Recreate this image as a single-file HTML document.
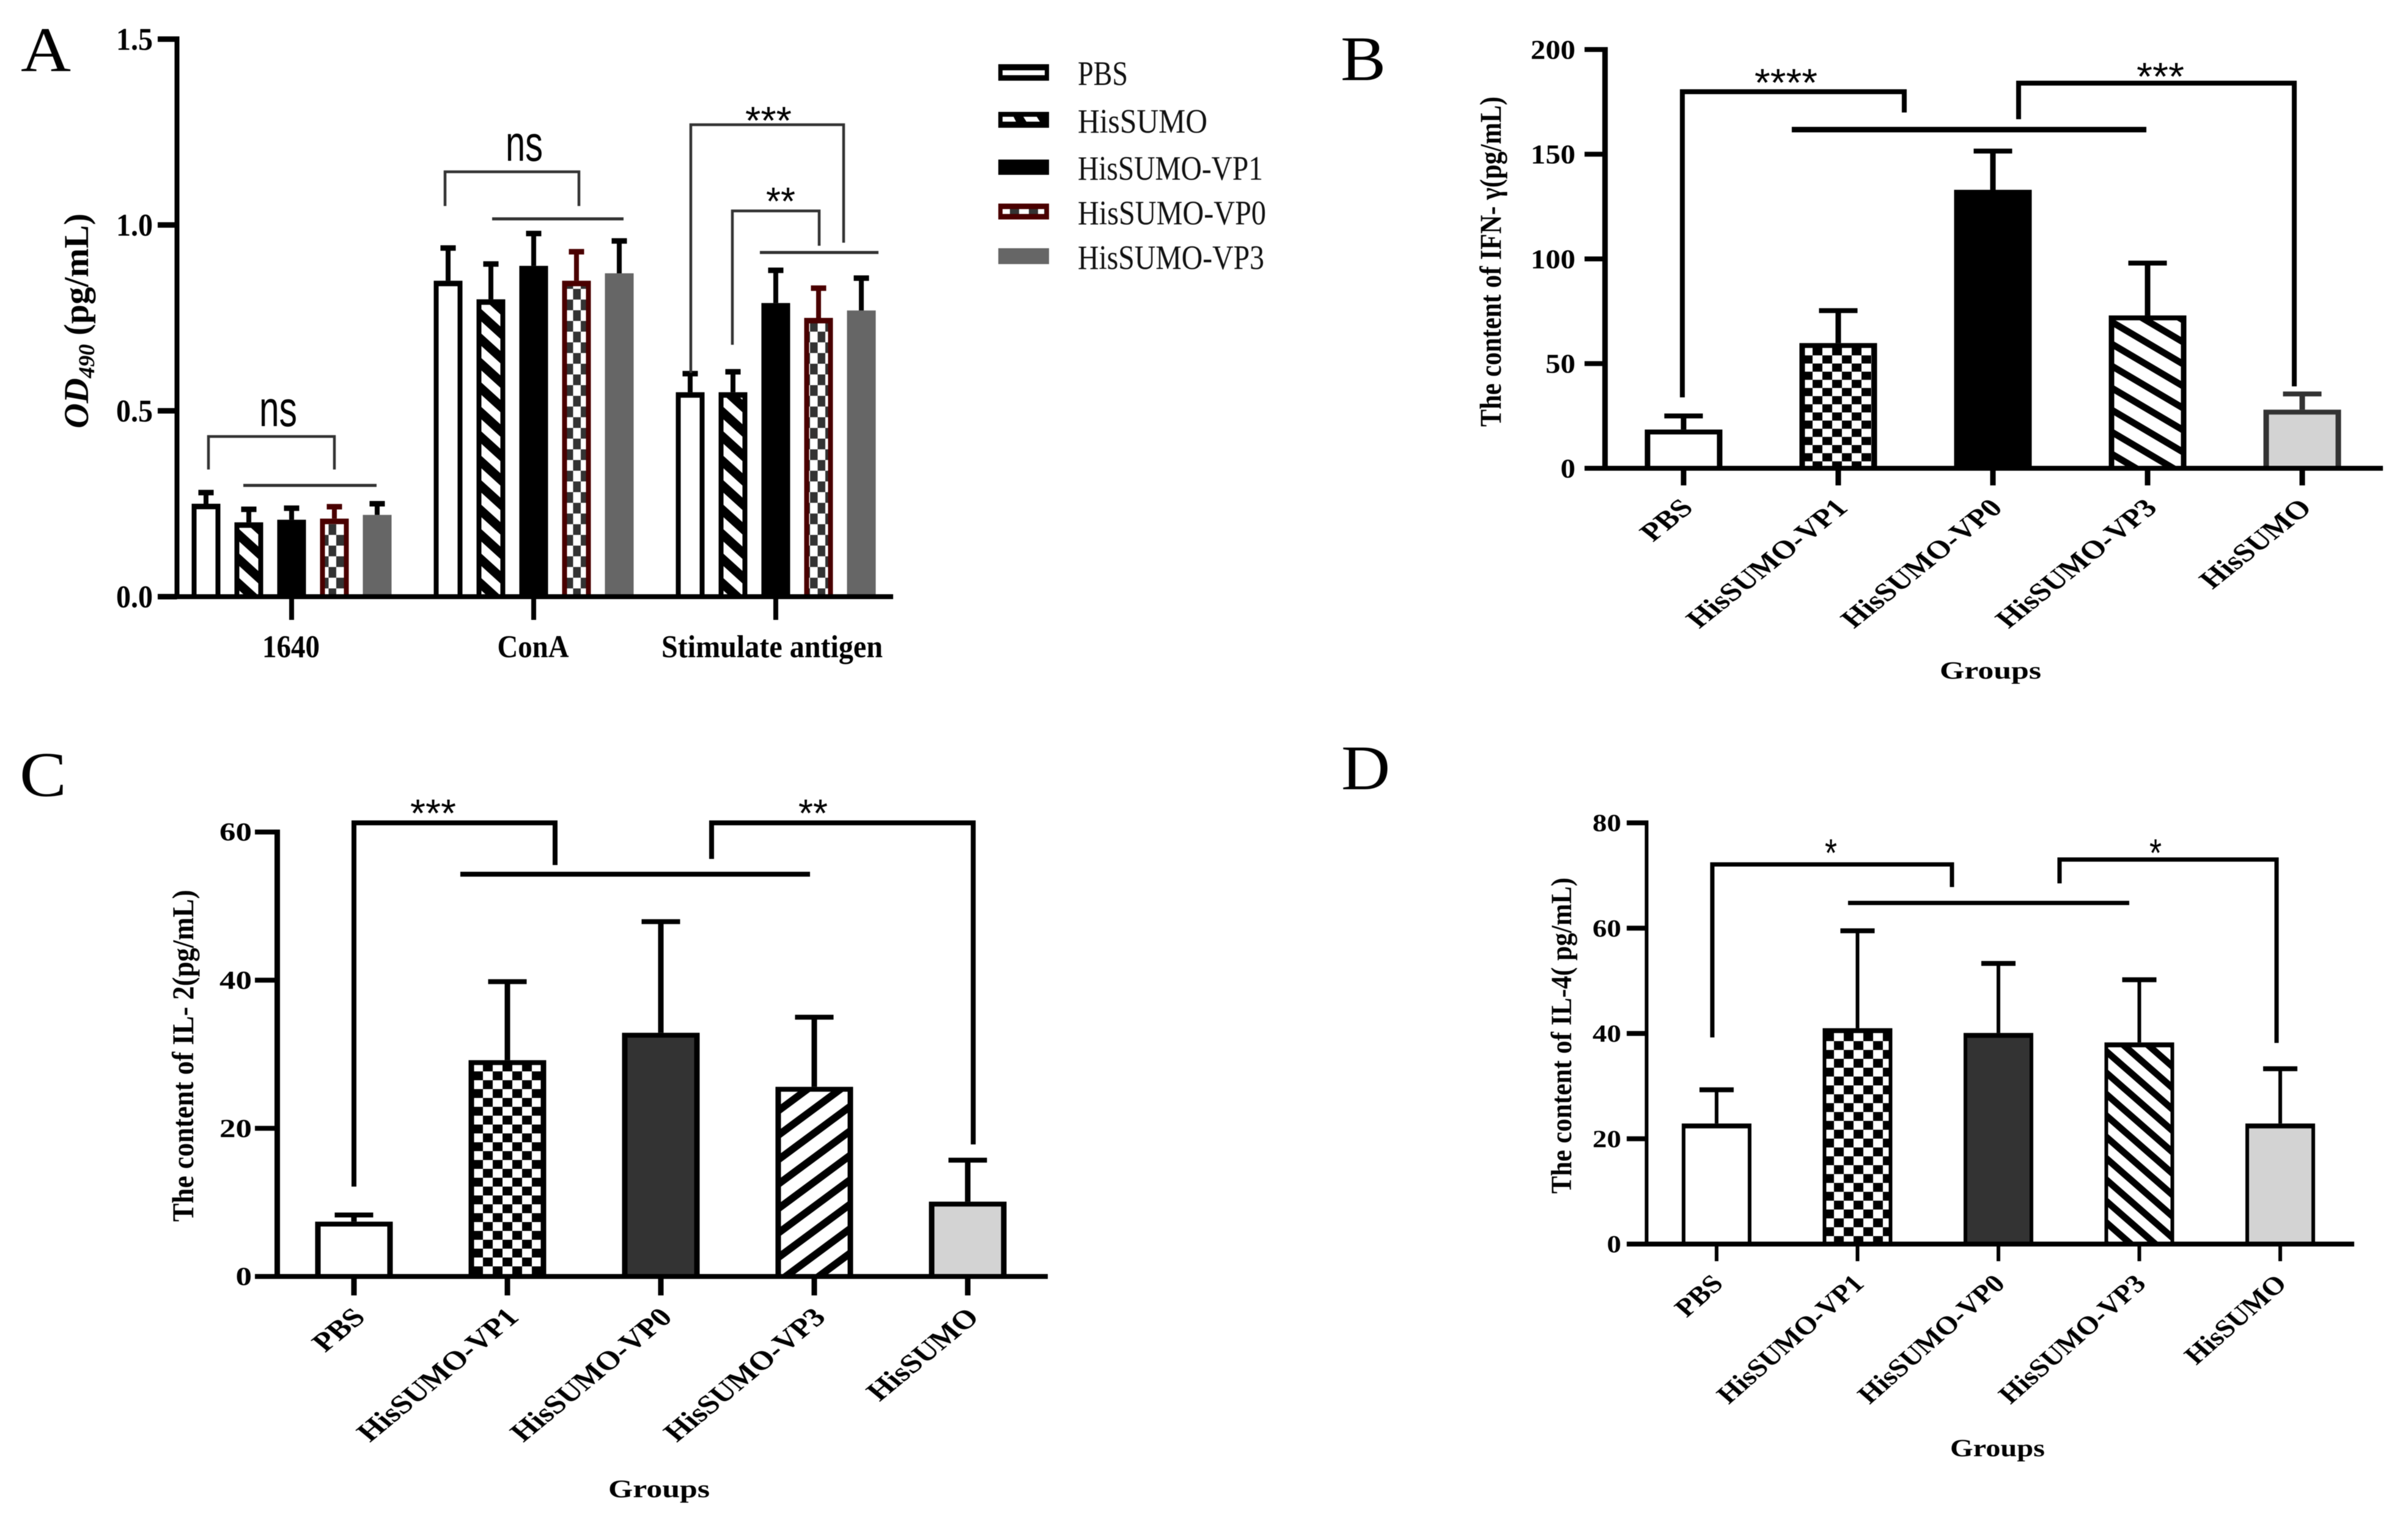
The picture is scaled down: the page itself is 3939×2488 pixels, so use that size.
<!DOCTYPE html>
<html lang="en">
<head>
<meta charset="utf-8">
<title>Cytokine and OD490 bar charts</title>
<style>
html,body{margin:0;padding:0;background:#fff;}
svg{display:block;filter:blur(.6px);}
text{font-family:"Liberation Serif",serif;fill:#000;}
.b{font-weight:bold;}
.sans{font-family:"Liberation Sans",sans-serif;}
.leg{font-size:56px;fill:#111;}
.panel-letter{font-size:104px;}
.star{font-family:"Liberation Sans",sans-serif;font-size:64px;}
</style>
</head>
<body>
<svg id="fig" xmlns="http://www.w3.org/2000/svg" width="3939" height="2488" viewBox="0 0 3939 2488">
<defs>
  <pattern id="hatchA" width="44" height="40" patternUnits="userSpaceOnUse">
    <rect width="44" height="40" fill="#fff"/>
    <path d="M-44,-40L88,80M0,-40L132,80M-88,-40L44,80" stroke="#000" stroke-width="15" fill="none"/>
  </pattern>
  <pattern id="hatchB" width="61" height="36" patternUnits="userSpaceOnUse">
    <rect width="61" height="36" fill="#fff"/>
    <path d="M-61,-36L122,72M0,-36L183,72M-122,-36L61,72" stroke="#000" stroke-width="11" fill="none"/>
  </pattern>
  <pattern id="hatchC" width="54" height="40" patternUnits="userSpaceOnUse" patternTransform="scale(-1,1)">
    <rect width="54" height="40" fill="#fff"/>
    <path d="M-54,-40L108,80M0,-40L162,80M-108,-40L54,80" stroke="#000" stroke-width="12" fill="none"/>
  </pattern>
  <pattern id="hatchD" width="40" height="35" patternUnits="userSpaceOnUse">
    <rect width="40" height="35" fill="#fff"/>
    <path d="M-40,-35L80,70M0,-35L120,70M-80,-35L40,70" stroke="#000" stroke-width="11" fill="none"/>
  </pattern>
  <pattern id="checkA" width="25" height="35" patternUnits="userSpaceOnUse">
    <rect width="25" height="35" fill="#fff"/>
    <rect width="12.5" height="17.5" fill="#333"/>
    <rect x="12.5" y="17.5" width="12.5" height="17.5" fill="#333"/>
  </pattern>
  <pattern id="checkB" width="32" height="26.67" patternUnits="userSpaceOnUse" patternTransform="translate(21,7.9)">
    <rect width="32" height="26.67" fill="#fff"/>
    <rect width="16" height="13.33" fill="#000"/>
    <rect x="16" y="13.33" width="16" height="13.34" fill="#000"/>
  </pattern>
  <pattern id="checkC" width="32" height="29" patternUnits="userSpaceOnUse" patternTransform="translate(22,27)">
    <rect width="32" height="29" fill="#fff"/>
    <rect width="16" height="14.5" fill="#000"/>
    <rect x="16" y="14.5" width="16" height="14.5" fill="#000"/>
  </pattern>
  <pattern id="checkD" width="32" height="29" patternUnits="userSpaceOnUse" patternTransform="translate(24,21)">
    <rect width="32" height="29" fill="#fff"/>
    <rect width="16" height="14.5" fill="#000"/>
    <rect x="16" y="14.5" width="16" height="14.5" fill="#000"/>
  </pattern>
</defs>

<!-- Panel letters -->
<text class="panel-letter" x="34" y="116" textLength="82" lengthAdjust="spacingAndGlyphs">A</text>
<text class="panel-letter" x="2193" y="131" textLength="74" lengthAdjust="spacingAndGlyphs">B</text>
<text class="panel-letter" x="32" y="1302" textLength="77" lengthAdjust="spacingAndGlyphs">C</text>
<text class="panel-letter" x="2194" y="1291" textLength="80" lengthAdjust="spacingAndGlyphs">D</text>

<!-- Legend -->
<g>
  <g>
    <rect x="1633" y="105" width="83" height="27" fill="#000"/><rect x="1640" y="115" width="69" height="8" fill="#fff"/>
    <text class="leg" x="1763" y="139" textLength="82" lengthAdjust="spacingAndGlyphs">PBS</text>
  </g>
  <g>
    <rect x="1633" y="183" width="83" height="26" fill="#000"/>
    <path d="M1640,191h18l4,8h-22zM1674,191h22l5,8h-22z" fill="#fff"/>
    <text class="leg" x="1763" y="217" textLength="212" lengthAdjust="spacingAndGlyphs">HisSUMO</text>
  </g>
  <g>
    <rect x="1633" y="261" width="83" height="25" fill="#000"/>
    <text class="leg" x="1763" y="294" textLength="303" lengthAdjust="spacingAndGlyphs">HisSUMO-VP1</text>
  </g>
  <g>
    <rect x="1633" y="333" width="83" height="26" fill="#4a0000"/>
    <path d="M1640,342h69v8h-69z" fill="#333"/>
    <path d="M1640,342h12v8h-12zM1667,342h16v8h-16zM1698,342h10v8h-10z" fill="#fff"/>
    <text class="leg" x="1763" y="367" textLength="308" lengthAdjust="spacingAndGlyphs">HisSUMO-VP0</text>
  </g>
  <g>
    <rect x="1633" y="406" width="83" height="26" fill="#666"/>
    <text class="leg" x="1763" y="440" textLength="305" lengthAdjust="spacingAndGlyphs">HisSUMO-VP3</text>
  </g>
</g>

<!-- Axis titles -->
<text class="b" font-size="57" text-anchor="middle" transform="translate(144,525) rotate(-90)"><tspan font-style="italic">OD</tspan><tspan font-style="italic" font-size="37" dy="10">490</tspan><tspan dy="-10"> (pg/mL)</tspan></text>
<text class="b" font-size="50" text-anchor="middle" textLength="540" lengthAdjust="spacingAndGlyphs" transform="translate(2455,428) rotate(-90)">The content of IFN- γ(pg/mL)</text>
<text class="b" font-size="50" text-anchor="middle" textLength="543" lengthAdjust="spacingAndGlyphs" transform="translate(316,1727) rotate(-90)">The content of IL- 2(pg/mL)</text>
<text class="b" font-size="48" text-anchor="middle" textLength="517" lengthAdjust="spacingAndGlyphs" transform="translate(2570,1694) rotate(-90)">The content of IL-4( pg/mL)</text>
<text class="b" font-size="40" x="3173" y="1110" textLength="166" lengthAdjust="spacingAndGlyphs">Groups</text>
<text class="b" font-size="41" x="995" y="2449" textLength="166" lengthAdjust="spacingAndGlyphs">Groups</text>
<text class="b" font-size="40" x="3190" y="2382" textLength="155" lengthAdjust="spacingAndGlyphs">Groups</text>

<g id="panelA"></g>
<g id="panelB"></g>
<g id="panelC"></g>
<g id="panelD"></g>

<!-- Significance annotations -->
<g fill="none" stroke="#333" stroke-width="4.5">
  <path d="M341,768V714H547V768"/>
  <path d="M398,794H616" stroke-width="5"/>
  <path d="M728,337V281H947V337"/>
  <path d="M805,358H1020" stroke-width="5"/>
  <path d="M1130,610V204H1380V397"/>
  <path d="M1198,564V345H1340V402"/>
  <path d="M1243,413H1437" stroke-width="5"/>
</g>
<text class="sans" font-size="83" x="424" y="697" textLength="62" lengthAdjust="spacingAndGlyphs" fill="#222">ns</text>
<text class="sans" font-size="83" x="827" y="263" textLength="61" lengthAdjust="spacingAndGlyphs" fill="#222">ns</text>
<text class="star" x="1219" y="219" textLength="76" lengthAdjust="spacingAndGlyphs">***</text>
<text class="star" x="1253" y="351" textLength="48" lengthAdjust="spacingAndGlyphs">**</text>

<g fill="none" stroke="#000" stroke-width="8">
  <path d="M2752,650V150H3115V184"/>
  <path d="M3302,195V136H3753V632"/>
  <path d="M2931,212H3511" stroke-width="9"/>
</g>
<text class="star" x="2870" y="157" textLength="103" lengthAdjust="spacingAndGlyphs">****</text>
<text class="star" x="3495" y="147" textLength="78" lengthAdjust="spacingAndGlyphs">***</text>

<g fill="none" stroke="#000" stroke-width="8">
  <path d="M579,1941V1346H908V1415"/>
  <path d="M1164,1405V1346H1592V1872"/>
  <path d="M753,1430H1325"/>
</g>
<text class="star" x="671" y="1352" textLength="75" lengthAdjust="spacingAndGlyphs">***</text>
<text class="star" x="1306" y="1352" textLength="48" lengthAdjust="spacingAndGlyphs">**</text>

<g fill="none" stroke="#000" stroke-width="7">
  <path d="M2801,1697V1414H3193V1451"/>
  <path d="M3369,1445V1406H3724V1706"/>
  <path d="M3023,1477H3483"/>
</g>
<text class="star" x="2985" y="1417" textLength="20" lengthAdjust="spacingAndGlyphs">*</text>
<text class="star" x="3516" y="1417" textLength="20" lengthAdjust="spacingAndGlyphs">*</text>
</svg>

<script>
// ---- Panel A data ----
const panelACategories = ['1640', 'ConA', 'Stimulate antigen'];
const panelASeries = ['PBS', 'HisSUMO', 'HisSUMO-VP1', 'HisSUMO-VP0', 'HisSUMO-VP3'];
const panelATicks = ['0.0', '0.5', '1.0', '1.5'];
const panelAMeansPBS = [0.25, 0.85, 0.55];
const panelAMeansHisSUMO = [0.20, 0.80, 0.55];
const panelAMeansVP1 = [0.207, 0.89, 0.79];
const panelAMeansVP0 = [0.21, 0.85, 0.75];
const panelAMeansVP3 = [0.22, 0.87, 0.77];
const panelAErrorsPBS = [0.03, 0.088, 0.05];
const panelAErrorsHisSUMO = [0.035, 0.095, 0.055];
const panelAErrorsVP1 = [0.031, 0.087, 0.088];
const panelAErrorsVP0 = [0.032, 0.078, 0.08];
const panelAErrorsVP3 = [0.03, 0.087, 0.087];

// ---- Panel B data ----
const panelBCategories = ['PBS', 'HisSUMO-VP1', 'HisSUMO-VP0', 'HisSUMO-VP3', 'HisSUMO'];
const panelBMeans = [18.5, 59.8, 133, 73, 28];
const panelBErrors = [6.5, 15.5, 18.5, 25, 7.5];
const panelBTicks = ['0', '50', '100', '150', '200'];

// ---- Panel C data ----
const panelCCategories = ['PBS', 'HisSUMO-VP1', 'HisSUMO-VP0', 'HisSUMO-VP3', 'HisSUMO'];
const panelCMeans = [7.4, 29.2, 32.9, 25.6, 10.1];
const panelCErrors = [0.9, 10.6, 15, 9.4, 5.6];
const panelCTicks = ['0', '20', '40', '60'];

// ---- Panel D data ----
const panelDCategories = ['PBS', 'HisSUMO-VP1', 'HisSUMO-VP0', 'HisSUMO-VP3', 'HisSUMO'];
const panelDMeans = [22.9, 41, 40.1, 38.3, 22.9];
const panelDErrors = [6.4, 18.5, 13.2, 11.9, 10.4];
const panelDTicks = ['0', '20', '40', '60', '80'];

const SVGNS = 'http://www.w3.org/2000/svg';
function mk(tag, parent, props) {
  const e = document.createElementNS(SVGNS, tag);
  for (const k in props) e.setAttribute(k, props[k]);
  parent.appendChild(e);
  return e;
}
function slug(s) { return String(s).toLowerCase().replace(/[^a-z0-9]+/g, '-'); }

function drawAxes(g, cfg, ticks, scale) {
  const yAxis = mk('rect', g, {x: cfg.axisX - cfg.sx / 2, y: scale(Number(ticks[ticks.length - 1])) - cfg.sy / 2, width: cfg.sx, height: cfg.y0 - scale(Number(ticks[ticks.length - 1])) + cfg.sy / 2, fill: '#000'});
  
  
  const xAxis = mk('rect', g, {x: cfg.axisLeft, y: cfg.y0 - cfg.axisH / 2, width: cfg.axisRight - cfg.axisLeft, height: cfg.axisH, fill: '#000'});
  
  
  ticks.forEach(function (t) {
    const y = scale(Number(t));
    const tick = mk('rect', g, {x: cfg.axisLeft, y: y - cfg.sy / 2, width: cfg.axisX - cfg.axisLeft, height: cfg.sy, fill: '#000'});
    
    
    const props = {x: cfg.tickRight, y: y + cfg.tickEm * 0.338, 'font-size': cfg.tickEm, 'text-anchor': 'end', 'class': 'b', textLength: cfg.tickLen(t), lengthAdjust: 'spacingAndGlyphs'};
    const label = mk('text', g, props);
    label.textContent = t;
    
    
  });
}

function drawBar(g, name, cx, mean, err, scale, cfg, st) {
  const top = scale(mean), w = cfg.barW, x = cx - w / 2;
  const outer = mk('rect', g, {x: x, y: top, width: w, height: cfg.y0 - top, fill: st.stroke});
  
  
  if (st.fill !== st.stroke) {
    const inner = mk('rect', g, {x: x + cfg.sx, y: top + cfg.sy, width: w - 2 * cfg.sx, height: cfg.y0 - top - cfg.sy, fill: st.fill});
    
    
  }
  const capY = scale(mean + err);
  const stem = mk('rect', g, {x: cx - cfg.errW / 2, y: capY, width: cfg.errW, height: top - capY, fill: st.err});
  
  
  const cap = mk('rect', g, {x: cx - cfg.capW / 2, y: capY - cfg.sy / 2, width: cfg.capW, height: cfg.sy, fill: st.err});
  
  
}

function drawSimplePanel(id, cfg, categories, means, errors, ticks, styles) {
  const g = document.getElementById(id);
  const scale = function (v) { return cfg.y0 - v * cfg.pxPerUnit; };
  const xPos = function (i) { return cfg.firstX + i * cfg.pitch; };
  categories.forEach(function (c, i) {
    drawBar(g, slug(c), xPos(i), means[i], errors[i], scale, cfg, styles[i]);
    const tick = mk('rect', g, {x: xPos(i) - cfg.xTickW / 2, y: cfg.y0, width: cfg.xTickW, height: cfg.xTickLen, fill: '#000'});
    
    
    const label = mk('text', g, {'class': 'b', 'font-size': cfg.labelEm, 'text-anchor': 'end', transform: 'translate(' + (xPos(i) + cfg.labelDx) + ',' + (cfg.y0 + cfg.labelDy) + ') scale(' + cfg.labelSx + ',1) rotate(-45)'});
    label.textContent = c;
    
    
  });
  drawAxes(g, cfg, ticks, scale);
}

// ---- Panel A (grouped bars) ----
(function () {
  const g = document.getElementById('panelA');
  const cfg = {y0: 976, pxPerUnit: 608, axisX: 289.5, axisLeft: 258, axisRight: 1461, axisH: 8, sx: 8, sy: 9, barW: 47, errW: 8, capW: 25, tickRight: 250, tickEm: 52, tickLen: function () { return 60; }};
  const scale = function (v) { return cfg.y0 - v * cfg.pxPerUnit; };
  const groupCenters = [0, 1, 2].map(function (i) { return 477 + i * 396; });
  const offsets = [-2, -1, 0, 1, 2].map(function (k) { return k * 70; });
  const meansBySeries = [panelAMeansPBS, panelAMeansHisSUMO, panelAMeansVP1, panelAMeansVP0, panelAMeansVP3];
  const errorsBySeries = [panelAErrorsPBS, panelAErrorsHisSUMO, panelAErrorsVP1, panelAErrorsVP0, panelAErrorsVP3];
  const styles = [
    {stroke: '#000', fill: '#fff', err: '#000'},
    {stroke: '#000', fill: 'url(#hatchA)', err: '#000'},
    {stroke: '#000', fill: '#000', err: '#000'},
    {stroke: '#4a0000', fill: 'url(#checkA)', err: '#4a0000'},
    {stroke: '#666', fill: '#666', err: '#000'}
  ];
  const labelBox = [94, 117, 362];
  panelACategories.forEach(function (cat, ci) {
    panelASeries.forEach(function (s, si) {
      drawBar(g, slug(cat) + '-' + slug(s), groupCenters[ci] + offsets[si], meansBySeries[si][ci], errorsBySeries[si][ci], scale, cfg, styles[si]);
    });
    const tick = mk('rect', g, {x: groupCenters[ci] - 4, y: cfg.y0, width: 8, height: 38, fill: '#000'});
    
    
    const label = mk('text', g, {x: groupCenters[ci] + (ci === 2 ? -6 : -1), y: 1075, 'class': 'b', 'font-size': 52, 'text-anchor': 'middle', textLength: labelBox[ci], lengthAdjust: 'spacingAndGlyphs'});
    label.textContent = cat;
    
    
  });
  drawAxes(g, cfg, panelATicks, scale);
})();

// ---- Panels B, C, D ----
drawSimplePanel('panelB',
  {y0: 766, pxPerUnit: 3.425, firstX: 2754, pitch: 253, barW: 127, sx: 9, sy: 8, errW: 9, capW: 63, axisX: 2625.5, axisLeft: 2592, axisRight: 3898, axisH: 8, tickRight: 2577, tickEm: 44, tickLen: function (t) { return t.length * 24.4; }, xTickW: 9, xTickLen: 28, labelEm: 42, labelDx: 18, labelDy: 67, labelSx: 1.25},
  panelBCategories, panelBMeans, panelBErrors, panelBTicks,
  [
    {stroke: '#000', fill: '#fff', err: '#000'},
    {stroke: '#000', fill: 'url(#checkB)', err: '#000'},
    {stroke: '#000', fill: '#000', err: '#000'},
    {stroke: '#000', fill: 'url(#hatchB)', err: '#000'},
    {stroke: '#333', fill: '#d3d3d3', err: '#333'}
  ]);

drawSimplePanel('panelC',
  {y0: 2088, pxPerUnit: 12.117, firstX: 579, pitch: 251, barW: 127, sx: 9, sy: 8, errW: 9, capW: 63, axisX: 453.5, axisLeft: 417, axisRight: 1714, axisH: 8, tickRight: 412, tickEm: 42, tickLen: function (t) { return t.length * 26.5; }, xTickW: 9, xTickLen: 31, labelEm: 43.5, labelDx: 21, labelDy: 69, labelSx: 1.21},
  panelCCategories, panelCMeans, panelCErrors, panelCTicks,
  [
    {stroke: '#000', fill: '#fff', err: '#000'},
    {stroke: '#000', fill: 'url(#checkC)', err: '#000'},
    {stroke: '#000', fill: '#333', err: '#000'},
    {stroke: '#000', fill: 'url(#hatchC)', err: '#000'},
    {stroke: '#000', fill: '#d3d3d3', err: '#000'}
  ]);

drawSimplePanel('panelD',
  {y0: 2035, pxPerUnit: 8.6125, firstX: 2808, pitch: 230.5, barW: 114, sx: 6, sy: 8, errW: 6, capW: 56, axisX: 2693.5, axisLeft: 2661, axisRight: 3851, axisH: 8, tickRight: 2652, tickEm: 40, tickLen: function (t) { return t.length * 23.5; }, xTickW: 6, xTickLen: 28, labelEm: 42, labelDx: 13, labelDy: 67, labelSx: 1.14},
  panelDCategories, panelDMeans, panelDErrors, panelDTicks,
  [
    {stroke: '#000', fill: '#fff', err: '#000'},
    {stroke: '#000', fill: 'url(#checkD)', err: '#000'},
    {stroke: '#000', fill: '#333', err: '#000'},
    {stroke: '#000', fill: 'url(#hatchD)', err: '#000'},
    {stroke: '#000', fill: '#d3d3d3', err: '#000'}
  ]);
</script>
</body>
</html>
